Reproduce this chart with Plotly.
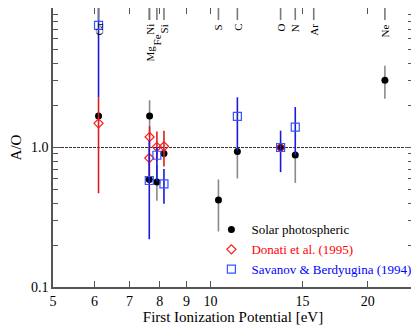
import numpy as np
import plotly.graph_objects as go

# --- data -------------------------------------------------------------
# first ionization potentials [eV] of the marked elements
elements = ['Ca', 'Ni', 'Mg', 'Fe', 'Si', 'S', 'C', 'O', 'N', 'Ar', 'Ne']
fip = [6.11, 7.64, 7.65, 7.90, 8.15, 10.36, 11.26, 13.62, 14.53, 15.76, 21.56]

# Solar photospheric
sol_x = [6.11, 7.65, 7.64, 7.90, 8.15, 10.36, 11.26, 13.62, 14.53, 21.56]
sol_y = [1.68, 1.68, 0.59, 0.566, 0.907, 0.42, 0.937, 1.00, 0.882, 3.04]
sol_hi = [1.68, 2.18, 0.59, 0.75, 0.907, 0.59, 0.937, 1.00, 0.882, 3.86]
sol_lo = [1.68, 1.20, 0.59, 0.415, 0.907, 0.25, 0.60, 1.00, 0.557, 2.24]

# Donati et al. (1995)
don_x = [6.11, 7.65, 7.64, 7.90, 8.15, 13.62]
don_y = [1.49, 1.19, 0.84, 1.01, 1.02, 1.00]
don_hi = [2.29, 1.42, 1.00, 1.30, 1.32, 1.00]
don_lo = [0.47, 1.00, 0.60, 0.80, 0.73, 1.00]

# Savanov & Berdyugina (1994)
sav_x = [6.11, 7.64, 7.90, 8.15, 11.26, 13.62, 14.53]
sav_y = [7.50, 0.58, 0.88, 0.548, 1.67, 1.00, 1.40]
sav_hi = [20.0, 1.12, 1.00, 0.70, 2.29, 1.32, 1.95]
sav_lo = [2.29, 0.22, 0.57, 0.395, 0.95, 0.666, 0.88]

x_ticks = [5, 6, 7, 8, 9, 10, 15, 20]
y_ticks = [0.1, 1.0, 10.0]
y_ticktext = ['0.1', '1.0', '10.0']
y_minor = [m * d for d in (0.1, 1.0) for m in range(2, 10)]
x_range = [5, 24.4]
y_range = [0.1, 10.0]

# extra downward shift of crowded element labels (px)
label_drop = {'Fe': 10, 'Mg': 22}

FONT = "'Liberation Serif', 'DejaVu Serif', serif"


def err(y, hi, lo):
    y = np.array(y)
    return dict(type='data', symmetric=False, array=np.array(hi) - y,
                arrayminus=y - np.array(lo), width=0, thickness=1.6)


fig = go.Figure()

fig.add_trace(go.Scatter(
    x=x_range, y=[1, 1], mode='lines', showlegend=False, hoverinfo='skip',
    line=dict(color='#333333', width=1, dash='3px,1px')))

e = err(sol_y, sol_hi, sol_lo)
e['color'] = '#8a8a8a'
fig.add_trace(go.Scatter(
    x=sol_x, y=sol_y, mode='markers', name='Solar photospheric',
    marker=dict(symbol='circle', size=7, color='black'), error_y=e))

e = err(don_y, don_hi, don_lo)
e['color'] = '#d42020'
fig.add_trace(go.Scatter(
    x=don_x, y=don_y, mode='markers',
    name="<span style='color:#ff0000'>Donati et al. (1995)</span>",
    marker=dict(symbol='diamond-open', size=7, color='#ff1a1a',
                line=dict(width=1.2)), error_y=e))

e = err(sav_y, sav_hi, sav_lo)
e['color'] = '#1a1ad8'
fig.add_trace(go.Scatter(
    x=sav_x, y=sav_y, mode='markers',
    name="<span style='color:#0000ff'>Savanov &amp; Berdyugina (1994)</span>",
    marker=dict(symbol='square-open', size=8, color='#3355ff',
                line=dict(width=1.2)), error_y=e))

# element markers along the top axis
for el, f in zip(elements, fip):
    fig.add_shape(type='line', xref='x', yref='paper', x0=f, x1=f,
                  y0=1, y1=1 - 12 / 279,
                  line=dict(color='#7a7a7a', width=1.6))
    fig.add_annotation(x=np.log10(f), xref='x', yref='paper', y=1,
                       yanchor='top', xanchor='center',
                       yshift=-14 - label_drop.get(el, 0),
                       text=el, textangle=-90, showarrow=False,
                       font=dict(family=FONT, size=11, color='black'))

axis_style = dict(showline=True, linecolor='#555555', linewidth=1.5,
                  mirror='ticks', ticks='inside', tickcolor='#555555',
                  showgrid=False, zeroline=False, automargin=False,
                  tickfont=dict(family=FONT, size=14, color='black'))

fig.update_xaxes(type='log', range=list(np.log10(x_range)),
                 tickvals=x_ticks, ticktext=[str(v) for v in x_ticks],
                 ticklen=6, tickwidth=1,
                 title=dict(text='First Ionization Potential [eV]', standoff=0,
                            font=dict(family=FONT, size=15, color='black')),
                 **axis_style)
fig.update_yaxes(type='log', range=list(np.log10(y_range)),
                 tickvals=y_ticks, ticktext=y_ticktext, ticklen=8, tickwidth=1,
                 minor=dict(tickvals=y_minor, ticks='inside', ticklen=5,
                            tickcolor='#555555'),
                 title=dict(text='A/O', standoff=8,
                            font=dict(family=FONT, size=15, color='black')),
                 **axis_style)

# the page body adds an 8px offset, so the figure is 8px smaller
fig.update_layout(
    width=411, height=319,
    margin=dict(l=45, r=6, t=0, b=40),
    plot_bgcolor='white', paper_bgcolor='white',
    font=dict(family=FONT, size=13, color='black'),
    legend=dict(x=0.44, y=0.26, xanchor='left', yanchor='top',
                bgcolor='rgba(0,0,0,0)', font=dict(family=FONT, size=13),
                tracegroupgap=0, itemwidth=30),
)

fig.write_html("out.html")
